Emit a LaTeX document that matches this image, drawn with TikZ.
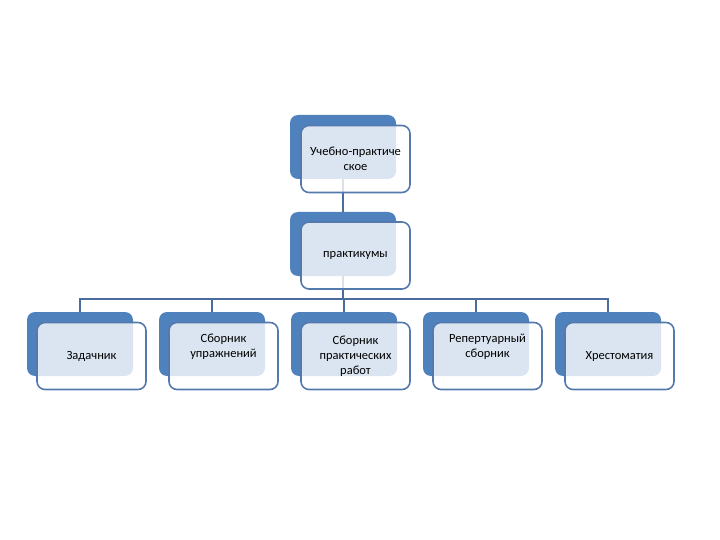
\documentclass[tikz,border=0pt]{standalone}
\usepackage{fontspec}
\setmainfont{Carlito}
\definecolor{BoxBlue}{HTML}{4F81BD}
\definecolor{EdgeBlue}{HTML}{5479AC}
\definecolor{LinkBlue}{HTML}{4A6D9E}
\usetikzlibrary{positioning}
\tikzset{
    % Blue card behind each entry
    back card/.style={
        rectangle,
        rounded corners=8pt,
        fill=BoxBlue,
        draw=none,
        minimum width=106pt,
        minimum height=64pt
    },
    % Half-transparent card in front, carrying the text
    front card/.style={
        rectangle,
        rounded corners=8pt,
        fill=white,
        fill opacity=0.8,
        text opacity=1,
        draw=EdgeBlue,
        line width=1.6pt,
        minimum width=109pt,
        minimum height=67pt,
        align=center,
        font=\fontsize{12.5}{15}\selectfont
    },
    link style/.style={
        draw=LinkBlue,
        line width=1.4pt
    }
}
\begin{document}
\begin{tikzpicture}[x=1pt, y=-1pt]
        \useasboundingbox (0,0) rectangle (720,540);

        % Back cards
        \node[back card] (topback) at (343, 147) {};
        \node[back card] (pracback) at (343, 244) {};
        \node[back card] (taskback) at (80, 344) {};
        \node[back card] (exerback) at (212, 344) {};
        \node[back card] (workback) at (344, 344) {};
        \node[back card] (repback) at (476, 344) {};
        \node[back card] (readback) at (608, 344) {};

        % Connectors
        \coordinate (bar) at (343, 299);
        \draw[link style] (topback.south) -- (pracback.north);
        \draw[link style] (pracback.south) -- (bar);
        \draw[link style] (bar) -| (taskback.north);
        \draw[link style] (bar) -| (exerback.north);
        \draw[link style] (bar) -| (workback.north);
        \draw[link style] (bar) -| (repback.north);
        \draw[link style] (bar) -| (readback.north);

        % Front cards
        \node[front card] (top) at (355.5, 159) {Учебно-практиче\\ское};
        \node[front card] (prac) at (355.5, 255.5) {практикумы};
        \node[front card] (task) at (91.5, 356) {Задачник};
        \node[front card] (exer) at (223.5, 356) {Сборник\\упражнений\\[6pt]};
        \node[front card] (work) at (355.5, 356) {Сборник\\практических\\работ};
        \node[front card] (rep) at (487.5, 356) {Репертуарный\\сборник\\[6pt]};
        \node[front card] (read) at (619.5, 356) {Хрестоматия};
    \end{tikzpicture}
\end{document}
